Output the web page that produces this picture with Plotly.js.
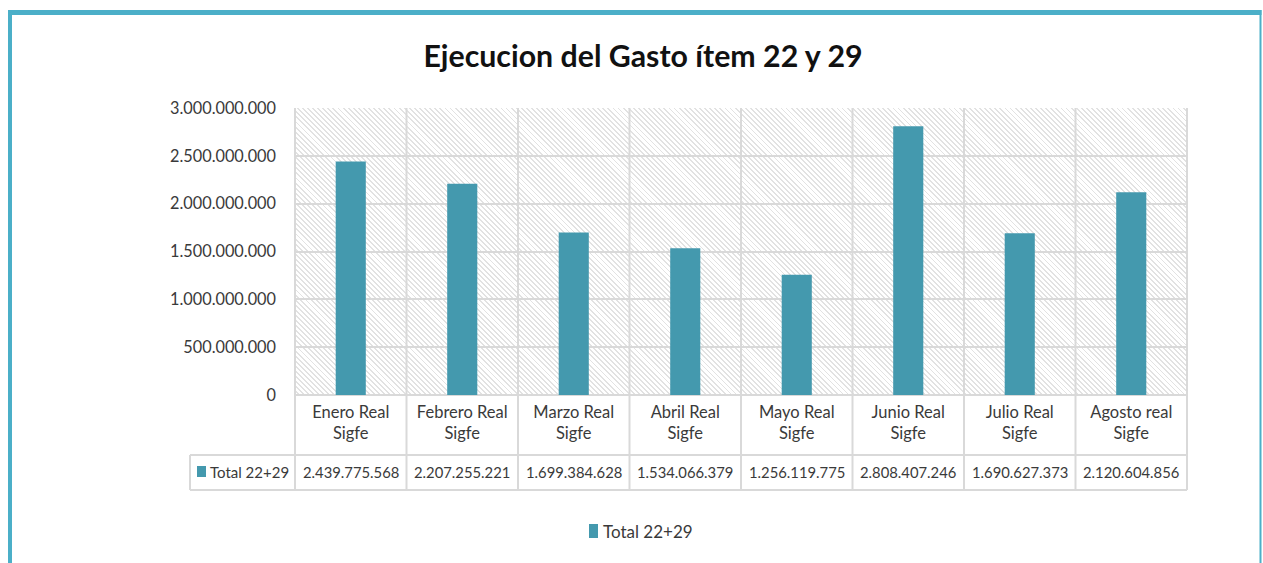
<!DOCTYPE html>
<html>
<head>
<meta charset="utf-8">
<script src="https://cdn.plot.ly/plotly-3.0.1.min.js"></script>
<style>
  html, body { margin: 0; padding: 0; background: #ffffff; }
  #wrap { position: relative; width: 1263px; height: 563px; overflow: hidden; }
  #hatch {
    position: absolute; left: 295px; top: 108px; width: 892px; height: 287px;
    background: repeating-linear-gradient(45deg, #ffffff 0px, #ffffff 2.3px, #e2e2e2 2.3px, #e2e2e2 3.6px);
  }
  #chart { position: absolute; left: 0; top: 0; width: 1263px; height: 563px; }
</style>
</head>
<body>
<div id="wrap">
  <div id="hatch"></div>
  <div id="chart"></div>
</div>
<script>
// ---- data ----
const categories = ['Enero Real Sigfe', 'Febrero Real Sigfe', 'Marzo Real Sigfe', 'Abril Real Sigfe',
                    'Mayo Real Sigfe', 'Junio Real Sigfe', 'Julio Real Sigfe', 'Agosto real Sigfe'];
const totalValues = [2439775568, 2207255221, 1699384628, 1534066379, 1256119775, 2808407246, 1690627373, 2120604856];
const seriesName = 'Total 22+29';
const chartTitle = 'Ejecucion del Gasto ítem 22 y 29';
const yTickVals = [0, 500000000, 1000000000, 1500000000, 2000000000, 2500000000, 3000000000];

// ---- layout geometry (pixels) ----
const W = 1263, H = 563;
const L = 295, R = 1187, T = 108, B = 395;
const PW = R - L, PH = B - T;
const px = x => (x - L) / PW;
const py = y => (B - y) / PH;

const barColor = '#4499AE';
const gridColor = '#d9d9d9';
const borderColor = '#4BAFC8';
const textColor = '#3a3a3a';
const FONT = 'Lato, sans-serif';

const fmt = v => String(v).replace(/\B(?=(\d{3})+(?!\d))/g, '.');
const tickText = categories.map(c => { const i = c.lastIndexOf(' '); return c.slice(0, i) + '<br>' + c.slice(i + 1); });

const n = categories.length;
const shapes = [];
const line = (x0, y0, x1, y1, color, w) => shapes.push({type: 'line', xref: 'paper', yref: 'paper',
  x0: x0, y0: y0, x1: x1, y1: y1, line: {color: color, width: w}, layer: 'below'});

// vertical grid / table lines at category boundaries
for (let i = 0; i <= n; i++) line(i / n, 1, i / n, py(490), gridColor, 2);
// table horizontal lines
line(0, 0, 1, 0, gridColor, 2);
line(px(190), py(455), 1, py(455), gridColor, 2);
line(px(190), py(490), 1, py(490), gridColor, 2);
line(px(190), py(455), px(190), py(490), gridColor, 2);
// table legend key
shapes.push({type: 'rect', xref: 'paper', yref: 'paper', x0: px(197), x1: px(206), y0: py(477), y1: py(466),
  fillcolor: barColor, line: {width: 0}});
// bottom legend key
shapes.push({type: 'rect', xref: 'paper', yref: 'paper', x0: px(589), x1: px(598), y0: py(538), y1: py(524),
  fillcolor: barColor, line: {width: 0}});
// outer frame
shapes.push({type: 'line', xref: 'paper', yref: 'paper', x0: px(10), x1: px(10), y0: py(10), y1: py(600),
  line: {color: borderColor, width: 4}});
shapes.push({type: 'line', xref: 'paper', yref: 'paper', x0: px(8), x1: px(1261.5), y0: py(12.5), y1: py(12.5),
  line: {color: borderColor, width: 5}});
shapes.push({type: 'line', xref: 'paper', yref: 'paper', x0: px(1260.5), x1: px(1260.5), y0: py(10), y1: py(600),
  line: {color: borderColor, width: 2}});

const annotations = totalValues.map((v, i) => ({
  x: categories[i], xref: 'x', y: py(472), yref: 'paper', text: fmt(v), showarrow: false,
  font: {family: FONT, size: 14.8, color: textColor}, xanchor: 'center', yanchor: 'middle'
}));
annotations.push({x: px(210), xref: 'paper', y: py(472), yref: 'paper', text: seriesName, showarrow: false,
  font: {family: FONT, size: 15, color: textColor}, xanchor: 'left', yanchor: 'middle', xshift: -2});
annotations.push({x: px(603), xref: 'paper', y: py(531), yref: 'paper', text: seriesName, showarrow: false,
  font: {family: FONT, size: 17, color: textColor}, xanchor: 'left', yanchor: 'middle', xshift: -2});

const trace = {
  type: 'bar', x: categories, y: totalValues, name: seriesName,
  marker: {color: barColor, line: {width: 0}}, width: 0.27, hoverinfo: 'x+y'
};

const layout = {
  width: W, height: H,
  margin: {l: L, r: W - R, t: T, b: H - B, pad: 0},
  paper_bgcolor: 'rgba(0,0,0,0)', plot_bgcolor: 'rgba(0,0,0,0)',
  separators: ',.',
  font: {family: FONT, size: 16, color: textColor},
  title: {text: chartTitle, font: {family: FONT, size: 30.3, color: '#111111', weight: 'bold'},
          xref: 'container', yref: 'container', x: 643 / W, xanchor: 'center', y: 1 - 56 / H, yanchor: 'middle'},
  xaxis: {type: 'category', tickvals: categories, ticktext: tickText, showgrid: false, zeroline: false,
          showline: false, ticks: '', tickfont: {family: FONT, size: 16.5, color: textColor}, ticklabelstandoff: 5},
  yaxis: {range: [0, 3000000000], tickvals: yTickVals, tickformat: ',.0f', showgrid: true,
          gridcolor: gridColor, gridwidth: 2, zeroline: false, showline: false, ticks: '',
          ticklabelstandoff: 18, tickfont: {family: FONT, size: 16.3, color: textColor}},
  showlegend: false,
  shapes: shapes, annotations: annotations, bargap: 0.73
};

Plotly.newPlot('chart', [trace], layout, {displayModeBar: false, staticPlot: true});
</script>
</body>
</html>
